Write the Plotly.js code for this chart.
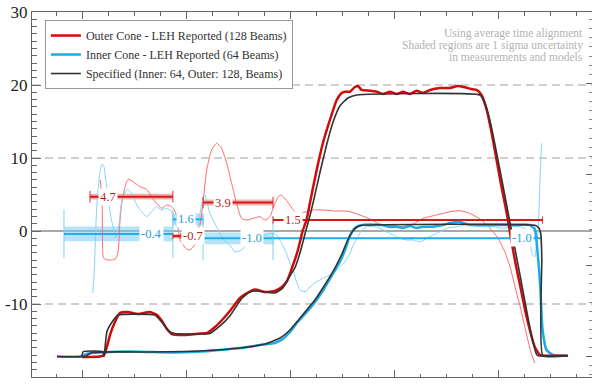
<!DOCTYPE html>
<html><head><meta charset="utf-8">
<script src="https://cdn.plot.ly/plotly-3.0.1.min.js"></script>
<style>html,body{margin:0;padding:0;background:#fff}#chart{width:592px;height:384px}</style>
</head><body><div id="chart"></div>
<script>
// ---- data (time in ns) ----
var outerT = [-0.04,0.65,0.81,0.92,1.04,1.23,1.42,1.73,2.12,2.58,2.85,3.04,3.23,3.42,3.92,4.50,4.77,5.08,5.35,5.65,6.04,6.31,6.62,7.00,7.38,7.65,7.85,8.04,8.27,8.46,8.60,8.73,8.99,9.23,9.50,9.76,9.95,10.08,10.27,10.46,10.58,10.72,11.04,11.30,11.54,11.81,12.07,12.31,12.58,12.83,13.08,13.35,13.73,14.12,14.42,14.69,14.92,15.14,15.33,15.53,15.72,15.91,16.10,16.30,16.46,16.65,16.85,17.04,17.23,17.38,17.58,17.83,18.65];
var outerP = [-17.26,-17.19,-16.99,-15.89,-14.25,-12.47,-11.23,-11.10,-11.37,-11.10,-11.51,-12.33,-13.42,-14.11,-14.25,-14.04,-13.97,-13.15,-12.19,-10.96,-9.18,-8.49,-8.01,-8.36,-8.22,-7.67,-6.85,-5.07,-2.60,0.14,1.51,3.84,8.36,12.05,15.21,17.95,18.90,19.08,19.08,19.73,19.86,19.32,19.22,19.08,18.77,19.08,18.77,19.08,18.77,19.22,18.90,19.32,19.59,19.59,19.86,19.68,19.45,19.32,18.63,16.58,13.42,9.73,6.03,2.47,-0.96,-4.66,-8.08,-11.37,-14.11,-15.89,-16.99,-17.08,-17.08];

var innerT = [-1.00,-0.12,0.19,0.65,1.81,2.58,3.35,4.12,4.88,5.65,6.23,6.81,7.38,7.69,7.96,8.23,8.54,8.81,9.12,9.38,9.65,9.88,10.08,10.27,10.46,10.65,11.04,11.54,11.81,12.07,12.31,12.58,12.83,13.08,13.46,13.85,14.12,14.50,14.88,15.27,16.04,16.62,17.00,17.19,17.38,17.46,17.58,17.68,17.83,18.08,18.65];
var innerP = [-17.19,-17.19,-16.78,-16.64,-16.51,-16.58,-16.64,-16.58,-16.44,-16.16,-15.96,-15.62,-15.34,-14.79,-13.84,-12.60,-11.37,-10.27,-8.77,-7.26,-5.62,-4.25,-2.60,-0.68,0.41,0.75,0.89,0.78,0.55,0.59,0.41,0.68,0.41,0.59,0.59,0.82,1.10,1.23,0.82,0.82,0.82,0.82,0.89,0.82,0.27,-1.92,-7.12,-13.56,-16.30,-16.99,-17.08];

var specOuterT = [-0.04,0.01,0.77,0.81,0.92,1.12,1.35,2.77,2.96,3.15,3.35,3.54,4.88,5.27,5.65,6.12,6.42,6.69,7.38,7.69,7.96,8.15,8.38,8.58,8.71,8.85,9.12,9.37,9.62,9.88,10.19,10.53,15.27,15.46,15.65,16.04,16.42,16.81,17.12,17.31,17.46,17.58,18.65];
var specOuterP = [-17.12,-16.53,-16.53,-17.22,-13.79,-12.47,-11.51,-11.51,-12.19,-13.01,-13.84,-14.04,-14.04,-13.01,-11.64,-9.18,-8.36,-8.22,-8.49,-7.81,-6.16,-5.07,-2.60,0.14,1.78,3.84,8.08,11.78,14.93,17.12,18.22,18.63,18.63,17.53,15.21,8.36,1.23,-6.03,-11.92,-15.21,-16.99,-17.12,-17.12];

var specInnerT = [-1.00,0.08,0.35,2.58,4.50,6.04,7.00,7.58,7.96,8.35,8.92,9.35,9.69,9.96,10.15,10.35,10.54,10.73,17.38,17.54,17.62,17.65,17.69,18.65];
var specInnerP = [-17.19,-17.19,-16.64,-16.58,-16.44,-16.03,-15.48,-14.66,-13.56,-11.92,-9.45,-7.12,-5.07,-3.15,-1.51,-0.14,0.55,0.78,0.78,0.41,-0.68,-3.97,-17.08,-17.08];

// thin traces: outer / inner cone deviation
var devOuterT = [0.67,0.74,0.78,0.85,1.10,1.27,1.36,1.42,1.49,1.62,1.74,1.93,2.19,2.45,2.64,2.83,3.03,3.22,3.41,3.58,3.73,3.86,3.99,4.12,4.27,4.42,4.53,4.63,4.76,4.95,5.14,5.33,5.53,5.72,5.91,6.10,6.30,6.55,6.81,7.00,7.19,7.38,7.58,7.70,7.96,8.15,8.35,8.60,8.86,9.24,9.63,10.01,10.27,10.65,11.04,11.42,11.81,12.19,12.70,13.09,13.60,14.12,14.50,14.88,15.27,15.65,15.96,16.23,16.46,16.65,16.85,17.04,17.23,17.38];
var devOuterP = [6.99,3.33,-3.52,-3.88,-3.97,-3.74,-2.60,1.10,3.79,6.07,7.08,6.75,6.07,5.71,4.70,3.79,3.11,3.56,3.33,2.42,-1.23,-1.92,-2.51,-2.60,-2.05,-0.82,1.51,4.25,8.36,11.10,12.01,11.33,9.27,6.53,3.79,1.74,1.51,1.74,1.96,1.51,1.96,3.79,4.93,4.70,3.56,2.64,2.47,2.64,2.88,2.88,2.74,2.74,2.64,2.19,1.64,0.92,0.82,0.59,0.96,1.74,2.19,2.64,2.78,2.42,1.64,0.41,-0.96,-2.88,-5.34,-8.08,-10.82,-13.84,-16.58,-18.08];

var devInnerT = [0.38,0.44,0.53,0.65,0.73,0.81,0.88,0.97,1.07,1.17,1.27,1.38,1.50,1.70,1.87,2.07,2.26,2.45,2.64,2.83,3.03,3.22,3.41,3.54,3.73,4.12,4.38,4.50,4.63,4.69,4.88,5.14,5.40,5.65,5.85,6.10,6.30,6.49,6.68,6.87,7.00,7.26,7.45,7.64,7.83,7.96,8.09,8.19,8.35,8.54,8.73,8.99,9.24,9.63,9.88,10.01,10.27,10.40,10.59,10.72,10.91,11.17,11.42,11.68,11.93,12.19,12.45,12.70,12.96,13.22,13.47,13.73,13.99,14.37,14.76,15.27,15.78,16.17,16.55,16.81,17.07,17.19,17.30,17.38,17.45,17.51,17.58,17.64];
var devInnerP = [-8.49,-5.07,3.33,7.90,9.18,8.77,6.99,4.70,1.96,0.41,-0.96,0.82,4.25,5.71,5.16,3.56,2.64,1.96,2.64,3.33,2.88,3.11,2.64,1.23,-0.14,-0.68,0.14,2.33,4.79,4.93,2.42,0.59,-1.23,-1.92,-2.84,-2.60,-1.92,-1.68,-1.92,-1.23,-0.55,-0.32,-0.55,-1.68,-3.05,-4.42,-5.34,-6.71,-8.08,-8.32,-7.67,-6.95,-6.48,-5.79,-4.93,-4.52,-3.05,-1.92,-0.78,0.14,0.59,0.59,0.37,-0.10,-0.55,-1.00,-1.23,-1.23,-1.47,-1.00,-0.55,-0.10,0.37,0.59,0.82,0.59,0.59,0.37,0.59,0.59,0.14,-1.68,-3.29,-3.52,-1.68,0.14,6.99,12.01];

// segment averages: which cone, window start/end, mean, 1-sigma, label position
var segCone  = ['outer','inner','outer','inner','outer','inner','outer','inner'];
var segStart = [0.27,-0.73,3.46,3.46,4.62,4.62,7.31,7.31];
var segEnd   = [3.46,3.46,3.77,4.62,7.31,7.31,17.68,17.62];
var segMean  = [4.7,-0.4,-0.7,1.6,3.9,-1.0,1.5,-1.0];
var segSigma = [0.4,1.0,0.3,0.8,0.4,0.8,0.1,0.1];
var segLabelT = [0.97,2.64,4.23,3.96,5.38,6.49,8.08,16.87];

var yTicks = [-20,-10,0,10,20,30];
var yTickText = ['-20','-10','0','10','20','30'];
var noteLines = ['Using average time alignment','Shaded regions are 1 sigma uncertainty','in measurements and models'];

// ---- styles ----
var SERIF = 'Liberation Serif';
var RED='#d10a0a', BLUE='#1aace6', BLACK='#333333';
var style = {
  outer:{line:'#d81818', band:'rgba(235,80,80,0.45)', cap:'#e03030', text:'#b51c1c'},
  inner:{line:'#22aee8', band:'rgba(120,205,245,0.55)', cap:'#7fd0f3', text:'#1d9fd8'}
};
var capHalf = [0.8,3.3,0.4,0.8,0.8,3.0,0.5,0.8];

var traces = [];
var annots = [];
for (var i=0;i<segMean.length;i++){
  var s=style[segCone[i]];
  traces.push({x:[segStart[i],segEnd[i],segEnd[i],segStart[i],segStart[i]],
    y:[segMean[i]-segSigma[i],segMean[i]-segSigma[i],segMean[i]+segSigma[i],segMean[i]+segSigma[i],segMean[i]-segSigma[i]],
    mode:'lines',fill:'toself',fillcolor:s.band,line:{width:0},showlegend:false,hoverinfo:'skip'});
}
traces.push({x:devOuterT,y:devOuterP,mode:'lines',line:{color:'#ff6a6a',width:1,shape:'spline',smoothing:0.6},showlegend:false});
traces.push({x:devInnerT,y:devInnerP,mode:'lines',line:{color:'#86d4f6',width:1,shape:'spline',smoothing:0.6},showlegend:false});
for (var i=0;i<segMean.length;i++){
  var s=style[segCone[i]];
  traces.push({x:[segStart[i],segStart[i],null,segEnd[i],segEnd[i]],
    y:[segMean[i]-capHalf[i],segMean[i]+capHalf[i],null,segMean[i]-capHalf[i],segMean[i]+capHalf[i]],
    mode:'lines',line:{color:s.cap,width:1},showlegend:false,hoverinfo:'skip'});
  traces.push({x:[segStart[i],segEnd[i]],y:[segMean[i],segMean[i]],mode:'lines',
    line:{color:s.line,width:2},showlegend:false});
  annots.push({x:segLabelT[i],y:segMean[i],xref:'x',yref:'y',text:segMean[i].toFixed(1),showarrow:false,
    font:{family:SERIF,size:12.5,color:s.text},bgcolor:'#ffffff',borderpad:1});
}
traces.push({x:innerT,y:innerP,mode:'lines',name:'Inner Cone - LEH Reported (64 Beams)',legendrank:2,line:{color:BLUE,width:2.5,shape:'spline',smoothing:0.5}});
traces.push({x:outerT,y:outerP,mode:'lines',name:'Outer Cone - LEH Reported (128 Beams)',legendrank:1,line:{color:RED,width:2.5,shape:'spline',smoothing:0.5}});
traces.push({x:specOuterT,y:specOuterP,mode:'lines',name:'Specified (Inner: 64, Outer: 128, Beams)',legendrank:3,line:{color:BLACK,width:1.6,shape:'spline',smoothing:0.4}});
traces.push({x:specInnerT,y:specInnerP,mode:'lines',showlegend:false,line:{color:BLACK,width:1.6,shape:'spline',smoothing:0.4}});

for (var k=0;k<noteLines.length;k++){
  annots.push({xref:'paper',yref:'paper',x:0.9875,y:(377-34-k*11.5)/365,xanchor:'right',yanchor:'middle',align:'right',showarrow:false,
    text:noteLines[k],font:{family:SERIF,size:11.5,color:'#b3b3b3'}});
}

var layout = {
  width:592,height:384,
  margin:{l:32,r:0,t:12,b:7},
  paper_bgcolor:'#fff',plot_bgcolor:'#fff',
  font:{family:SERIF,color:'#222'},
  showlegend:true,
  legend:{x:0.023,y:0.978,xanchor:'left',yanchor:'top',bgcolor:'#fff',bordercolor:'#999',borderwidth:1,
    font:{family:SERIF,size:12,color:'#333'},tracegroupgap:0,traceorder:'normal',
    entrywidth:250,entrywidthmode:'pixels'},
  xaxis:{range:[-1.96,19.58],showgrid:false,zeroline:false,showticklabels:false,
    tick0:0,dtick:4,ticks:'inside',ticklen:7,tickcolor:'#666',showline:true,linecolor:'#666',mirror:'ticks',
    minor:{dtick:1,ticks:'inside',ticklen:3.5,tickcolor:'#666',showgrid:false}},
  yaxis:{range:[-20,30],tickvals:yTicks,ticktext:yTickText,showgrid:true,gridcolor:'#cfcfcf',gridwidth:1.3,griddash:'8px,5px',
    zeroline:true,zerolinecolor:'#a8a8a8',zerolinewidth:2,ticks:'inside',ticklen:9,tickcolor:'#666',
    showline:true,linecolor:'#666',mirror:true,tickfont:{family:SERIF,size:17,color:'#222'},
    minor:{dtick:1,ticks:'inside',ticklen:5,tickcolor:'#666',showgrid:false}},
  yaxis2:{overlaying:'y',side:'right',range:[-0.223,3.784],dtick:1,tick0:0,showgrid:false,zeroline:false,showline:false,
    showticklabels:false,ticks:'inside',ticklen:6,tickcolor:'#666',
    minor:{dtick:0.1,ticks:'inside',ticklen:3,tickcolor:'#888',showgrid:false}},
  annotations:annots
};
traces.push({x:[0],y:[0],yaxis:'y2',mode:'markers',marker:{opacity:0},showlegend:false,hoverinfo:'skip'});

Plotly.newPlot('chart',traces,layout,{staticPlot:true});
</script></body></html>
